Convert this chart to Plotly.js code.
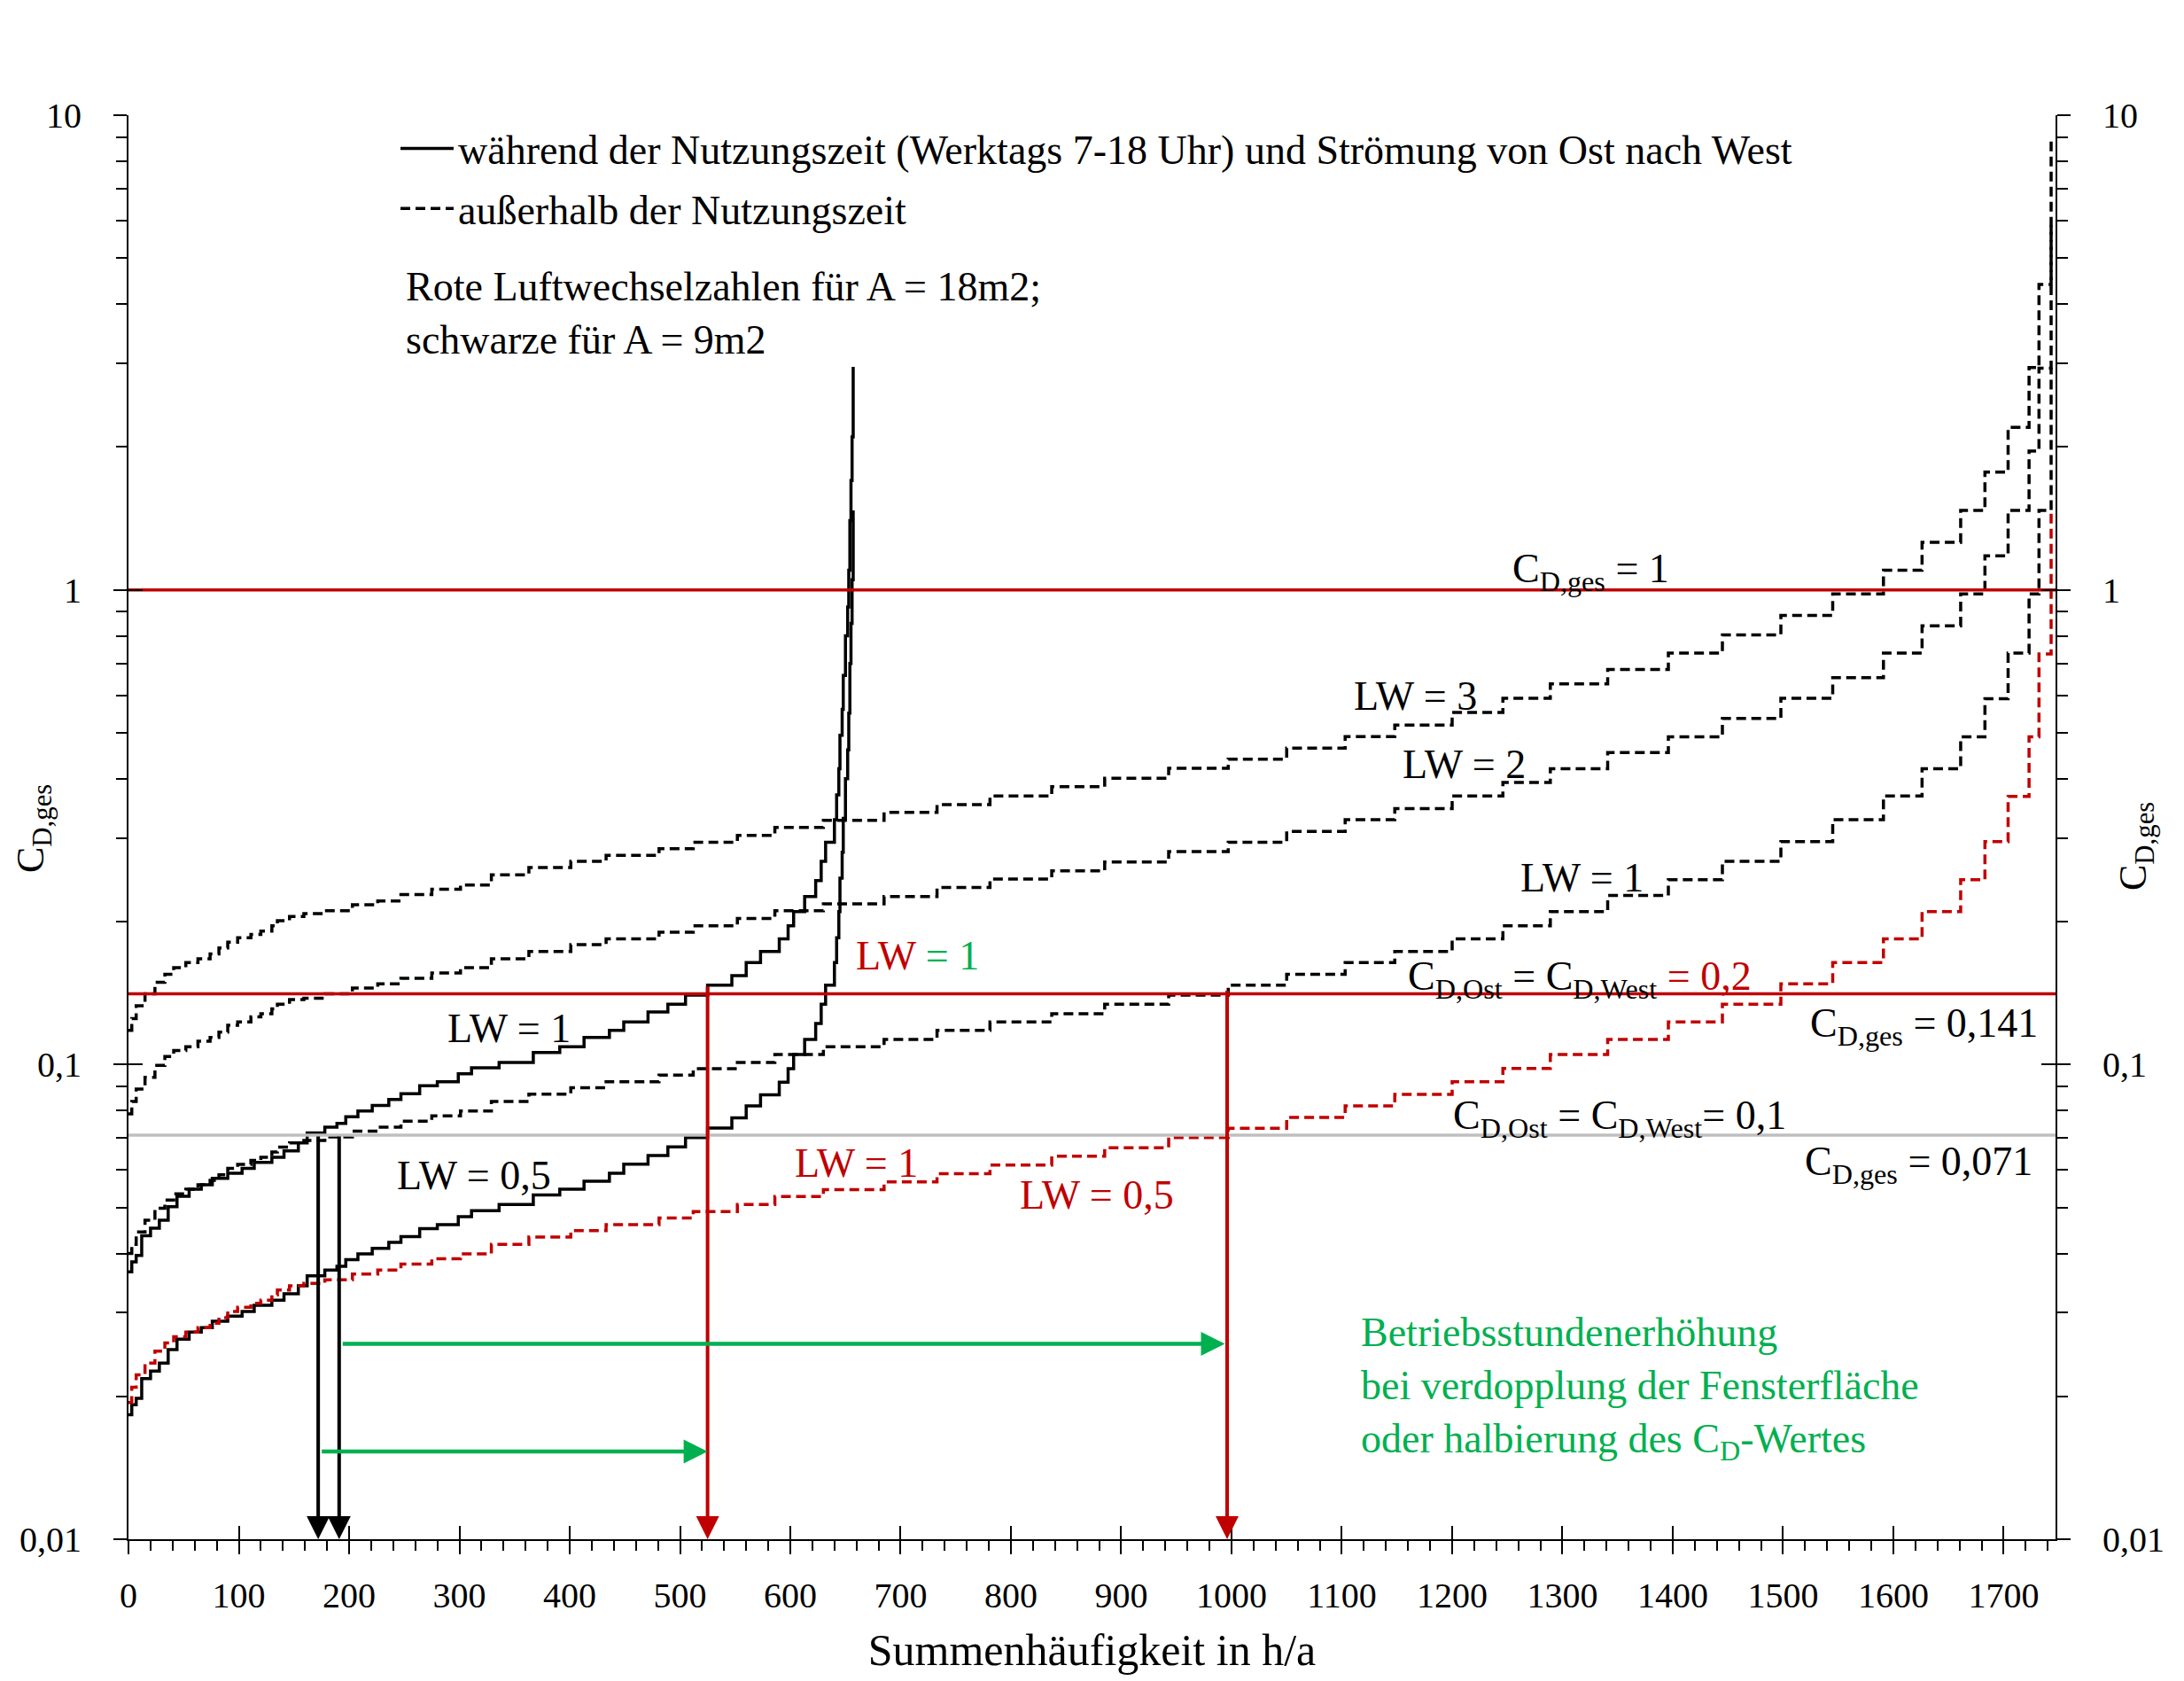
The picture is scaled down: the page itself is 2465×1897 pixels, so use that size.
<!DOCTYPE html>
<html>
<head>
<meta charset="utf-8">
<script src="https://cdn.plot.ly/plotly-3.0.1.min.js"></script>
<style>html,body{margin:0;padding:0;background:#fff;}#chart{width:2465px;height:1897px;}</style>
</head>
<body>
<div id="chart"></div>
<script>
// ---------- data ----------
// hours (step starts) of the curves outside the usage time (dashed)
const hoursOutside = [0,3,7,15,24,33,41,52,63,74,82,90,99,111,120,130,135,146,159,178,203,226,247,275,301,329,363,401,433,481,512,552,586,630,685,733,781,837,885,943,997,1050,1103,1148,1200,1246,1289,1341,1396,1445,1498,1545,1591,1626,1661,1683,1704,1723,1732,1743];
// red dashed (A = 18 m2)
const redOutside = [0.0194,0.0209,0.0222,0.0235,0.0249,0.0259,0.0267,0.0273,0.0279,0.0285,0.0293,0.0302,0.0308,0.0314,0.0319,0.0327,0.0335,0.0342,0.0346,0.0352,0.0362,0.0369,0.0380,0.0390,0.0399,0.0418,0.0433,0.0447,0.0460,0.0475,0.0490,0.0507,0.0527,0.0545,0.0566,0.0589,0.0614,0.0641,0.0668,0.0702,0.0734,0.0774,0.0818,0.0865,0.0920,0.0981,0.105,0.113,0.123,0.134,0.148,0.164,0.184,0.210,0.245,0.295,0.367,0.490,0.733,1.47];
// black dashed LW = 1
const lw1Outside = [0.0400,0.0418,0.0444,0.0470,0.0498,0.0518,0.0534,0.0546,0.0558,0.0570,0.0586,0.0604,0.0616,0.0628,0.0638,0.0654,0.0670,0.0684,0.0692,0.0704,0.0724,0.0738,0.0760,0.0780,0.0798,0.0836,0.0866,0.0894,0.0920,0.0950,0.0980,0.101,0.105,0.109,0.113,0.118,0.123,0.128,0.134,0.140,0.147,0.155,0.164,0.173,0.184,0.196,0.210,0.227,0.245,0.268,0.295,0.328,0.368,0.420,0.490,0.590,0.736,0.980,1.47,2.94];
// black dashed LW = 2
const lw2Outside = [0.0787,0.0836,0.0888,0.0940,0.0996,0.104,0.107,0.109,0.112,0.114,0.117,0.121,0.123,0.126,0.128,0.131,0.134,0.137,0.138,0.141,0.145,0.148,0.152,0.156,0.160,0.167,0.173,0.179,0.184,0.190,0.196,0.203,0.211,0.218,0.226,0.236,0.246,0.256,0.267,0.281,0.294,0.310,0.328,0.346,0.368,0.393,0.420,0.454,0.490,0.536,0.591,0.653,0.736,0.840,0.980,1.18,1.47,1.96,2.93,5.88];
// black dashed LW = 3
const lw3Outside = [0.118,0.125,0.133,0.141,0.149,0.155,0.160,0.164,0.167,0.171,0.176,0.181,0.185,0.188,0.191,0.196,0.201,0.205,0.208,0.211,0.217,0.221,0.228,0.234,0.239,0.251,0.260,0.268,0.276,0.285,0.294,0.304,0.316,0.327,0.340,0.353,0.368,0.385,0.401,0.421,0.440,0.464,0.491,0.519,0.552,0.591,0.634,0.680,0.736,0.804,0.883,0.980,1.10,1.26,1.47,1.77,2.20,2.94,4.40,8.85];

// hours (step starts) of the curves during usage time (solid)
const hoursUse = [0,3,7,12,20,28,36,44,55,66,76,90,103,114,130,141,154,162,178,189,197,208,221,236,247,264,280,299,311,336,367,391,413,436,449,471,489,505,525,547,560,573,590,598,603,613,623,628,632,640,642,644,645,647,648,650,652,653,654,655,656,657];
const lw05Use = [0.0183,0.0192,0.0198,0.0218,0.0226,0.0235,0.0251,0.0264,0.0273,0.0279,0.0288,0.0295,0.0302,0.0311,0.0319,0.0329,0.0342,0.0359,0.0369,0.0376,0.0388,0.0399,0.0410,0.0422,0.0434,0.0451,0.0460,0.0478,0.0492,0.0507,0.0531,0.0546,0.0568,0.0590,0.0617,0.0643,0.0671,0.0702,0.0735,0.0772,0.0818,0.0863,0.0918,0.0980,0.105,0.113,0.122,0.134,0.147,0.164,0.185,0.210,0.247,0.280,0.330,0.400,0.460,0.550,0.700,0.850,1.05,1.47];
const lw1Use = [0.0366,0.0384,0.0396,0.0436,0.0452,0.0470,0.0502,0.0528,0.0546,0.0558,0.0576,0.0590,0.0604,0.0622,0.0638,0.0658,0.0684,0.0718,0.0738,0.0752,0.0776,0.0798,0.0820,0.0844,0.0868,0.0902,0.0920,0.0956,0.0984,0.101,0.106,0.109,0.114,0.118,0.123,0.129,0.134,0.140,0.147,0.154,0.164,0.173,0.184,0.196,0.210,0.226,0.244,0.268,0.294,0.328,0.370,0.420,0.494,0.560,0.660,0.800,0.920,1.10,1.40,1.70,2.10,2.95];

// reference levels C_D,ges
const refLevels = [1, 0.141, 0.071];
const refColors = ['#c00000', '#c00000', '#bfbfbf'];
const hourRange = [0, 1747];

// vertical drop arrows (hour, starting level)
const dropHours = [172, 191, 525, 996];
const dropFrom  = [0.071, 0.071, 0.147, 0.144];
const dropColors = ['#000000', '#000000', '#c00000', '#c00000'];
// green shift arrows (from hour, to hour, level)
const shiftFrom = [193, 174];
const shiftTo   = [994, 525];
const shiftLevel = [0.0258, 0.0153];

// axis ticks
const hourTicks = [0,100,200,300,400,500,600,700,800,900,1000,1100,1200,1300,1400,1500,1600,1700];
const cdTicks = [0.01, 0.1, 1, 10];
const cdTickText = ['0,01', '0,1', '1', '10'];
const cdMinor = [0.02,0.03,0.04,0.05,0.06,0.07,0.08,0.09,0.2,0.3,0.4,0.5,0.6,0.7,0.8,0.9,2,3,4,5,6,7,8,9];

// ---------- styling ----------
const RED = '#c00000', GREEN = '#00b050', BLACK = '#000000';
const FONT = 'Liberation Serif, Times New Roman, serif';
const DASH = '11px,6px';
const LW = 3.5;

const traces = [];
traces.push({x: hoursUse, y: lw05Use, mode: 'lines', line: {shape: 'hv', color: BLACK, width: LW}, showlegend: false, hoverinfo: 'skip'});
traces.push({x: hoursUse, y: lw1Use, mode: 'lines', line: {shape: 'hv', color: BLACK, width: LW},
  name: 'während der Nutzungszeit (Werktags 7-18 Uhr) und Strömung von Ost nach West', legendgroup: 'a', showlegend: true, hoverinfo: 'skip'});
traces.push({x: hoursOutside, y: lw3Outside, mode: 'lines', line: {shape: 'hv', color: BLACK, width: LW, dash: DASH},
  name: 'außerhalb der Nutzungszeit', legendgroup: 'b', showlegend: true, hoverinfo: 'skip'});
traces.push({x: hoursOutside, y: lw2Outside, mode: 'lines', line: {shape: 'hv', color: BLACK, width: LW, dash: DASH}, showlegend: false, hoverinfo: 'skip', yaxis: 'y3'});
traces.push({x: hoursOutside, y: lw1Outside, mode: 'lines', line: {shape: 'hv', color: BLACK, width: LW, dash: DASH}, showlegend: false, hoverinfo: 'skip', yaxis: 'y4'});
traces.push({x: hoursOutside, y: redOutside, mode: 'lines', line: {shape: 'hv', color: RED, width: LW, dash: DASH}, showlegend: false, hoverinfo: 'skip', yaxis: 'y2'});
refLevels.forEach((lv, i) => {
  traces.push({x: hourRange, y: [lv, lv], mode: 'lines', line: {color: refColors[i], width: 3.5}, showlegend: false, hoverinfo: 'skip', xaxis: 'x2'});
});

const TS = 46;
const annotations = [];
function txt(x, logy, text, opts) {
  annotations.push(Object.assign({x: x, y: logy, xref: 'x', yref: 'y', text: text, showarrow: false,
    xanchor: 'center', yanchor: 'middle', font: {family: FONT, size: TS, color: BLACK}}, opts || {}));
}
txt(1326, 0.039, 'C<sub>D,ges</sub> = 1');
txt(1167, -0.223, 'LW = 3');
txt(1211, -0.368, 'LW = 2');
txt(1318, -0.607, 'LW = 1');
txt(1316, -0.820, 'C<sub>D,Ost</sub> = C<sub>D,West</sub> <span style="color:' + RED + '">= 0,2</span>');
txt(1628, -0.919, 'C<sub>D,ges</sub> = 0,141');
txt(1352, -1.113, 'C<sub>D,Ost</sub> = C<sub>D,West</sub>= 0,1');
txt(1623, -1.210, 'C<sub>D,ges</sub> = 0,071');
txt(345, -0.923, 'LW = 1');
txt(313, -1.233, 'LW = 0,5');
txt(660, -1.208, 'LW = 1', {font: {family: FONT, size: TS, color: RED}});
txt(878, -1.2755, 'LW = 0,5', {font: {family: FONT, size: TS, color: RED}});
txt(715, -0.771, '<span style="color:' + RED + '">LW</span><span style="color:' + GREEN + '"> = 1</span>');
txt(1116, -1.682, 'Betriebsstundenerhöhung<br>bei verdopplung der Fensterfläche<br>oder halbierung des C<sub>D</sub>-Wertes',
  {xanchor: 'left', align: 'left', font: {family: FONT, size: TS, color: GREEN}});
txt(250, 0.582, 'Rote Luftwechselzahlen für A = 18m2;<br>schwarze für A = 9m2', {xanchor: 'left', align: 'left'});

// y-axis titles
annotations.push({xref: 'paper', yref: 'paper', x: (38 - 145) / 2175, y: 1 - (935 - 130) / 1607, text: 'C<sub>D,ges</sub>',
  textangle: -90, showarrow: false, xanchor: 'center', yanchor: 'middle', font: {family: FONT, size: 44, color: BLACK}});
annotations.push({xref: 'paper', yref: 'paper', x: (2410 - 145) / 2175, y: 1 - (955 - 130) / 1607, text: 'C<sub>D,ges</sub>',
  textangle: -90, showarrow: false, xanchor: 'center', yanchor: 'middle', font: {family: FONT, size: 44, color: BLACK}});

// arrows
dropHours.forEach((h, i) => {
  annotations.push({x: h, y: Math.log10(cdTicks[0]), ax: h, ay: Math.log10(dropFrom[i]), xref: 'x', yref: 'y', axref: 'x', ayref: 'y',
    text: '', showarrow: true, arrowhead: 2, arrowsize: 1.3, arrowwidth: 4, arrowcolor: dropColors[i], standoff: 0, startstandoff: 0});
});
shiftFrom.forEach((h, i) => {
  annotations.push({x: shiftTo[i], y: Math.log10(shiftLevel[i]), ax: h, ay: Math.log10(shiftLevel[i]), xref: 'x', yref: 'y', axref: 'x', ayref: 'y',
    text: '', showarrow: true, arrowhead: 2, arrowsize: 1.2, arrowwidth: 4.5, arrowcolor: GREEN, standoff: 0, startstandoff: 0});
});

const logRange = [Math.log10(cdTicks[0]), Math.log10(cdTicks[3])];
const yBase = {type: 'log', range: logRange, tickmode: 'array', tickvals: cdTicks, ticktext: cdTickText,
  showgrid: false, zeroline: false, tickcolor: BLACK, tickwidth: 2, fixedrange: true};

const layout = {
  width: 2465, height: 1897,
  margin: {l: 145, r: 145, t: 130, b: 160, pad: 0},
  paper_bgcolor: '#ffffff', plot_bgcolor: '#ffffff',
  font: {family: FONT, size: 40, color: BLACK},
  showlegend: true,
  legend: {x: (447 - 145) / 2175, y: 1 - (131 - 130) / 1607, xanchor: 'left', yanchor: 'top', bgcolor: 'rgba(0,0,0,0)',
    font: {family: FONT, size: TS, color: BLACK}, tracegroupgap: 5, itemwidth: 60, traceorder: 'grouped'},
  xaxis: {range: hourRange, tickmode: 'array', tickvals: hourTicks, ticks: 'outside', ticklen: 15, tickwidth: 2, tickcolor: BLACK,
    showline: true, linewidth: 2, linecolor: BLACK, showgrid: false, zeroline: false, ticklabelstandoff: 12,
    tickfont: {family: FONT, size: 40}, anchor: 'y',
    minor: {dtick: 20, tick0: 0, ticks: 'outside', ticklen: 11, tickwidth: 2, tickcolor: BLACK, showgrid: false},
    title: {text: 'Summenhäufigkeit in h/a', font: {family: FONT, size: 50}, standoff: 22}},
  xaxis2: {range: hourRange, overlaying: 'x', anchor: 'y', side: 'bottom', tickmode: 'array', tickvals: hourTicks, ticks: 'inside',
    ticklen: 15, tickwidth: 2, tickcolor: BLACK, showticklabels: false, showline: false, showgrid: false, zeroline: false},
  yaxis: Object.assign({}, yBase, {side: 'left', ticks: 'outside', ticklen: 15, showline: true, linewidth: 2, linecolor: BLACK,
    tickfont: {family: FONT, size: 40}, ticklabelstandoff: 28, anchor: 'x',
    minor: {tickmode: 'array', tickvals: cdMinor, ticks: 'outside', ticklen: 12, tickwidth: 2, tickcolor: BLACK, showgrid: false}}),
  yaxis2: Object.assign({}, yBase, {overlaying: 'y', side: 'right', anchor: 'x', ticks: 'outside', ticklen: 15, showline: true, linewidth: 2, linecolor: BLACK,
    tickfont: {family: FONT, size: 40}, ticklabelstandoff: 28,
    minor: {tickmode: 'array', tickvals: cdMinor, ticks: 'outside', ticklen: 12, tickwidth: 2, tickcolor: BLACK, showgrid: false}}),
  yaxis3: Object.assign({}, yBase, {overlaying: 'y', side: 'left', anchor: 'x', ticks: 'inside', ticklen: 16, showline: false, showticklabels: false}),
  yaxis4: Object.assign({}, yBase, {overlaying: 'y', side: 'right', anchor: 'x', ticks: 'inside', ticklen: 16, showline: false, showticklabels: false}),
  annotations: annotations
};

Plotly.newPlot('chart', traces, layout, {staticPlot: true, displayModeBar: false});
</script>
</body>
</html>
